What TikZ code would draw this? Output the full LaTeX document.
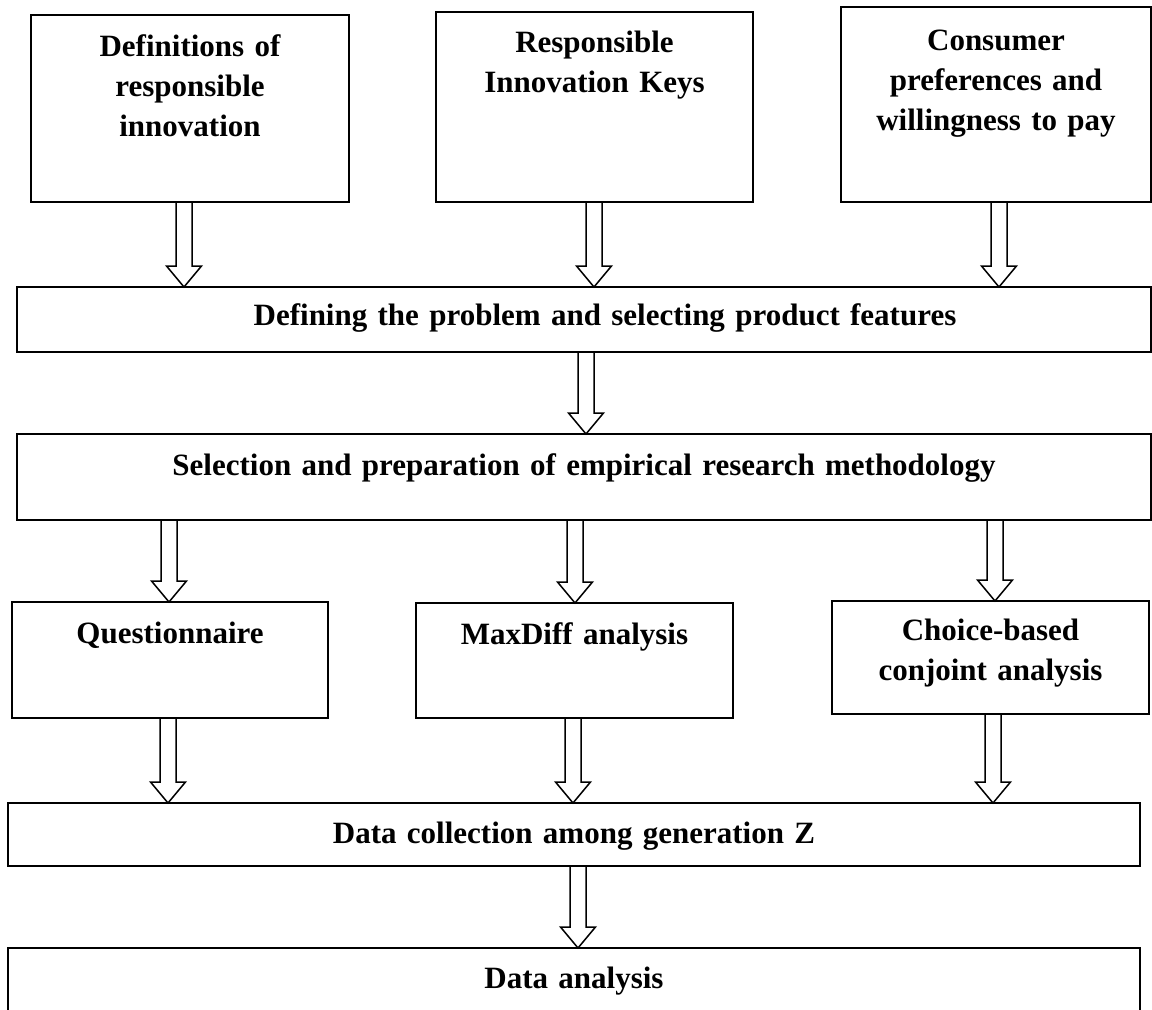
\documentclass[tikz,border=0pt]{standalone}
\usepackage{fontspec}
\setmainfont{Liberation Serif}
\usetikzlibrary{calc}
\tikzset{
  box/.style={draw, line width=1.8pt, rectangle, inner sep=0pt, outer sep=0pt,
    anchor=north west, align=center,
    font=\fontsize{31}{40}\selectfont\bfseries},
  arrowbody/.style={draw, line width=1.5pt, line join=miter}
}
\newcommand{\blockarrow}[3]{%
  \draw[arrowbody] let \p1=(#1.south), \p2=(#2.north) in
    ({#3pt-8pt},\y1) -- ({#3pt-8pt},{\y2+21pt}) -- ({#3pt-17.5pt},{\y2+21pt})
    -- (#3pt,\y2) -- ({#3pt+17.5pt},{\y2+21pt}) -- ({#3pt+8pt},{\y2+21pt})
    -- ({#3pt+8pt},\y1);}
\begin{document}
\begin{tikzpicture}[x=1pt,y=-1pt]
\clip (0,0) rectangle (1152,1010);
\fill[white] (0,0) rectangle (1152,1010);
% top row
\node[box, text width=318pt, text height=41pt, text depth=146pt] (b1) at (31,15)
  {Definitions of\\responsible\\innovation};
\node[box, text width=317pt, text height=40pt, text depth=150pt] (b2) at (436,12)
  {Responsible\\Innovation Keys};
\node[box, text width=310pt, text height=43pt, text depth=152pt] (b3) at (841,7)
  {Consumer\\preferences and\\willingness to pay};
% wide boxes
\node[box, text width=1134pt, text height=38pt, text depth=27pt] (b4) at (17,287)
  {\hspace*{42pt}Defining the problem and selecting product features};
\node[box, text width=1134pt, text height=41pt, text depth=45pt] (b5) at (17,434)
  {Selection and preparation of empirical research methodology};
% methods row
\node[box, text width=316pt, text height=41pt, text depth=75pt] (b6) at (12,602)
  {Questionnaire};
\node[box, text width=317pt, text height=41pt, text depth=74pt] (b7) at (416,603)
  {MaxDiff analysis};
\node[box, text width=317pt, text height=39pt, text depth=74pt] (b8) at (832,601)
  {Choice-based\\conjoint analysis};
% bottom boxes
\node[box, text width=1132pt, text height=40pt, text depth=23pt] (b9) at (8,803)
  {Data collection among generation Z};
\node[box, text width=1132pt, text height=40pt, text depth=50pt] (b10) at (8,948)
  {Data analysis};
% arrows
\blockarrow{b1}{b4}{184}
\blockarrow{b2}{b4}{594}
\blockarrow{b3}{b4}{999}
\blockarrow{b4}{b5}{586}
\blockarrow{b5}{b6}{169}
\blockarrow{b5}{b7}{575}
\blockarrow{b5}{b8}{995}
\blockarrow{b6}{b9}{168}
\blockarrow{b7}{b9}{573}
\blockarrow{b8}{b9}{993}
\blockarrow{b9}{b10}{578}
\end{tikzpicture}
\end{document}
